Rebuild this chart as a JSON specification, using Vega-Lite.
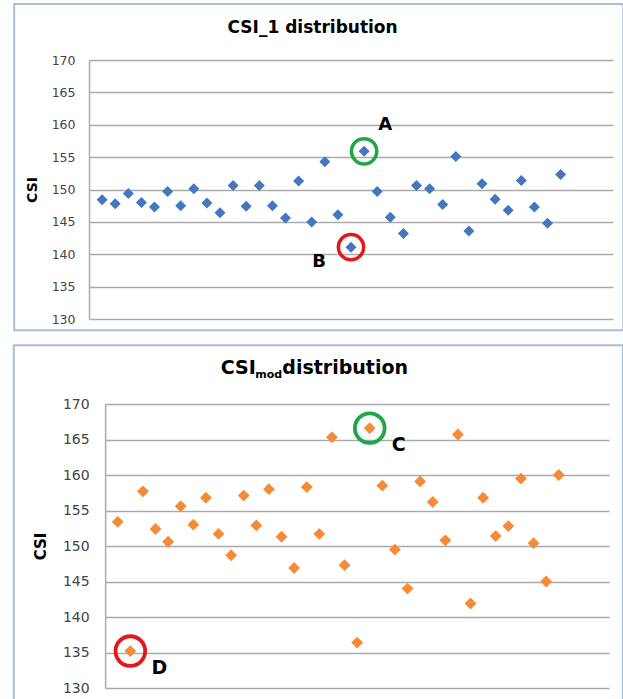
{
  "$schema": "https://vega.github.io/schema/vega-lite/v6.json",
  "padding": {"left": 12, "top": 2, "right": 0, "bottom": 0},
  "config": {
    "view": {"stroke": null},
    "font": "DejaVu Sans",
    "axis": {
      "grid": true, "gridColor": "#aaaaaa", "gridWidth": 1.5,
      "domainColor": "#aaaaaa", "domainWidth": 1.5, "ticks": false, "labelOverlap": false,
      "labelFont": "DejaVu Sans", "labelColor": "#444444",
      "titleFont": "DejaVu Sans", "titleFontWeight": "bold", "titleColor": "#000000"
    }
  },
  "datasets": {
    "frame": [{}],
    "csi1": [
      {"i": 1, "csi": 148.4}, {"i": 2, "csi": 147.8}, {"i": 3, "csi": 149.4}, {"i": 4, "csi": 148.0},
      {"i": 5, "csi": 147.3}, {"i": 6, "csi": 149.7}, {"i": 7, "csi": 147.5}, {"i": 8, "csi": 150.1},
      {"i": 9, "csi": 147.9}, {"i": 10, "csi": 146.4}, {"i": 11, "csi": 150.6}, {"i": 12, "csi": 147.4},
      {"i": 13, "csi": 150.6}, {"i": 14, "csi": 147.5}, {"i": 15, "csi": 145.6}, {"i": 16, "csi": 151.3},
      {"i": 17, "csi": 145.0}, {"i": 18, "csi": 154.3}, {"i": 19, "csi": 146.1}, {"i": 20, "csi": 141.1, "tag": "B"},
      {"i": 21, "csi": 155.9, "tag": "A"}, {"i": 22, "csi": 149.7}, {"i": 23, "csi": 145.7}, {"i": 24, "csi": 143.2},
      {"i": 25, "csi": 150.6}, {"i": 26, "csi": 150.1}, {"i": 27, "csi": 147.7}, {"i": 28, "csi": 155.1},
      {"i": 29, "csi": 143.6}, {"i": 30, "csi": 150.9}, {"i": 31, "csi": 148.5}, {"i": 32, "csi": 146.8},
      {"i": 33, "csi": 151.4}, {"i": 34, "csi": 147.3}, {"i": 35, "csi": 144.8}, {"i": 36, "csi": 152.3}
    ],
    "csimod": [
      {"i": 1, "csi": 153.4}, {"i": 2, "csi": 135.2, "tag": "D"}, {"i": 3, "csi": 157.7}, {"i": 4, "csi": 152.4},
      {"i": 5, "csi": 150.6}, {"i": 6, "csi": 155.6}, {"i": 7, "csi": 153.0}, {"i": 8, "csi": 156.8},
      {"i": 9, "csi": 151.7}, {"i": 10, "csi": 148.7}, {"i": 11, "csi": 157.1}, {"i": 12, "csi": 152.9},
      {"i": 13, "csi": 158.0}, {"i": 14, "csi": 151.3}, {"i": 15, "csi": 146.9}, {"i": 16, "csi": 158.3},
      {"i": 17, "csi": 151.7}, {"i": 18, "csi": 165.3}, {"i": 19, "csi": 147.3}, {"i": 20, "csi": 136.4},
      {"i": 21, "csi": 166.6, "tag": "C"}, {"i": 22, "csi": 158.5}, {"i": 23, "csi": 149.5}, {"i": 24, "csi": 144.0},
      {"i": 25, "csi": 159.1}, {"i": 26, "csi": 156.2}, {"i": 27, "csi": 150.8}, {"i": 28, "csi": 165.7},
      {"i": 29, "csi": 141.9}, {"i": 30, "csi": 156.8}, {"i": 31, "csi": 151.4}, {"i": 32, "csi": 152.8},
      {"i": 33, "csi": 159.5}, {"i": 34, "csi": 150.4}, {"i": 35, "csi": 145.0}, {"i": 36, "csi": 160.0}
    ]
  },
  "spacing": 12,
  "columns": 1,
  "align": "each",
  "center": true,
  "concat": [
    {
      "width": 524,
      "height": 259,
      "title": {
        "text": "CSI_1 distribution", "font": "DejaVu Sans", "fontSize": 17, "fontWeight": "bold",
        "color": "#000000", "anchor": "middle", "frame": "bounds", "offset": -34, "dx": -14
      },
      "layer": [
        {
          "data": {"name": "frame"},
          "mark": {"type": "rect", "fill": null, "stroke": "#a9bfd6", "strokeWidth": 2},
          "encoding": {
            "x": {"datum": -5.71, "type": "quantitative", "scale": {"domain": [0, 40], "nice": false, "zero": false}, "axis": null},
            "x2": {"datum": 40.78},
            "y": {"datum": 178.65, "type": "quantitative", "scale": {"domain": [130, 170], "nice": false, "zero": false},
                  "title": "CSI",
                  "axis": {"values": [130, 135, 140, 145, 150, 155, 160, 165, 170], "tickCount": 12, "labelFontSize": 12.5, "labelPadding": 14, "titleFontSize": 14, "titlePadding": 12}},
            "y2": {"datum": 128.27}
          }
        },
        {
          "data": {"name": "frame"},
          "mark": {"type": "rect", "fill": "#ffffff", "opacity": 0},
          "encoding": {
            "x": {"datum": 40.9, "type": "quantitative", "scale": {"domain": [0, 40], "nice": false, "zero": false}, "axis": null},
            "x2": {"datum": 42.06},
            "y": {"datum": 150, "type": "quantitative", "scale": {"domain": [130, 170], "nice": false, "zero": false},
                  "title": "CSI",
                  "axis": {"values": [130, 135, 140, 145, 150, 155, 160, 165, 170], "tickCount": 12, "labelFontSize": 12.5, "labelPadding": 14, "titleFontSize": 14, "titlePadding": 12}},
            "y2": {"datum": 149}
          }
        },
        {
          "data": {"name": "csi1"},
          "mark": {"type": "point", "shape": "diamond", "filled": true, "size": 121, "color": "#4576be", "opacity": 1},
          "encoding": {
            "x": {"field": "i", "type": "quantitative", "scale": {"domain": [0, 40], "nice": false, "zero": false}, "axis": null},
            "y": {"field": "csi", "type": "quantitative", "scale": {"domain": [130, 170], "nice": false, "zero": false}, "title": "CSI",
                  "axis": {"values": [130, 135, 140, 145, 150, 155, 160, 165, 170], "tickCount": 12, "labelFontSize": 12.5, "labelPadding": 14, "titleFontSize": 14, "titlePadding": 12}}
          }
        },
        {
          "data": {"name": "csi1"},
          "transform": [{"filter": "isValid(datum.tag)"}],
          "mark": {"type": "point", "shape": "circle", "filled": false, "size": 640, "strokeWidth": 3.5, "opacity": 1},
          "encoding": {
            "x": {"field": "i", "type": "quantitative"},
            "y": {"field": "csi", "type": "quantitative"},
            "color": {"field": "tag", "type": "nominal", "scale": {"domain": ["A", "B", "C", "D"], "range": ["#1fa64b", "#e3171c", "#1fa64b", "#e3171c"]}, "legend": null}
          }
        },
        {
          "data": {"name": "csi1"},
          "transform": [{"filter": "datum.tag === 'A'"}],
          "mark": {"type": "text", "dx": 21, "dy": -26, "font": "DejaVu Sans", "fontSize": 18, "fontWeight": "bold", "color": "#000000", "baseline": "middle", "align": "center"},
          "encoding": {
            "x": {"field": "i", "type": "quantitative"},
            "y": {"field": "csi", "type": "quantitative"},
            "text": {"field": "tag"}
          }
        },
        {
          "data": {"name": "csi1"},
          "transform": [{"filter": "datum.tag === 'B'"}],
          "mark": {"type": "text", "dx": -32, "dy": 15, "font": "DejaVu Sans", "fontSize": 18, "fontWeight": "bold", "color": "#000000", "baseline": "middle", "align": "center"},
          "encoding": {
            "x": {"field": "i", "type": "quantitative"},
            "y": {"field": "csi", "type": "quantitative"},
            "text": {"field": "tag"}
          }
        }
      ]
    },
    {
      "width": 504,
      "height": 284,
      "title": {
        "text": "CSI\u00a0\u00a0\u00a0\u00a0distribution", "font": "DejaVu Sans", "fontSize": 19, "fontWeight": "bold",
        "color": "#000000", "anchor": "start", "frame": "bounds", "offset": -36, "dx": 208,
        "subtitle": "\u200b\u00a0\u00a0\u00a0\u00a0\u00a0\u00a0\u00a0\u00a0\u00a0mod", "subtitleFont": "DejaVu Sans", "subtitleFontSize": 11,
        "subtitleFontWeight": "bold", "subtitleColor": "#000000", "subtitlePadding": -9
      },
      "layer": [
        {
          "data": {"name": "frame"},
          "mark": {"type": "rect", "fill": null, "stroke": "#a9bfd6", "strokeWidth": 2},
          "encoding": {
            "x": {"datum": -7.25, "type": "quantitative", "scale": {"domain": [0, 40], "nice": false, "zero": false}, "axis": null},
            "x2": {"datum": 41.09},
            "y": {"datum": 178.27, "type": "quantitative", "scale": {"domain": [130, 170], "nice": false, "zero": false},
                  "title": "CSI",
                  "axis": {"values": [130, 135, 140, 145, 150, 155, 160, 165, 170], "tickCount": 12, "labelFontSize": 14, "labelPadding": 16, "titleFontSize": 15, "titlePadding": 14}},
            "y2": {"datum": 128.27}
          }
        },
        {
          "data": {"name": "csimod"},
          "mark": {"type": "point", "shape": "diamond", "filled": true, "size": 140, "color": "#f38b37", "opacity": 1},
          "encoding": {
            "x": {"field": "i", "type": "quantitative", "scale": {"domain": [0, 40], "nice": false, "zero": false}, "axis": null},
            "y": {"field": "csi", "type": "quantitative", "scale": {"domain": [130, 170], "nice": false, "zero": false}, "title": "CSI",
                  "axis": {"values": [130, 135, 140, 145, 150, 155, 160, 165, 170], "tickCount": 12, "labelFontSize": 14, "labelPadding": 16, "titleFontSize": 15, "titlePadding": 14}}
          }
        },
        {
          "data": {"name": "csimod"},
          "transform": [{"filter": "isValid(datum.tag)"}],
          "mark": {"type": "point", "shape": "circle", "filled": false, "size": 880, "strokeWidth": 3.8, "opacity": 1},
          "encoding": {
            "x": {"field": "i", "type": "quantitative"},
            "y": {"field": "csi", "type": "quantitative"},
            "color": {"field": "tag", "type": "nominal", "scale": {"domain": ["A", "B", "C", "D"], "range": ["#1fa64b", "#e3171c", "#1fa64b", "#e3171c"]}, "legend": null}
          }
        },
        {
          "data": {"name": "csimod"},
          "transform": [{"filter": "isValid(datum.tag)"}],
          "mark": {"type": "text", "dx": 29, "font": "DejaVu Sans", "fontSize": 19, "fontWeight": "bold", "color": "#000000", "baseline": "middle", "align": "center"},
          "encoding": {
            "x": {"field": "i", "type": "quantitative"},
            "y": {"field": "csi", "type": "quantitative"},
            "text": {"field": "tag"},
            "yOffset": {"condition": {"test": "datum.tag === 'C'", "value": -12}, "value": 17}
          }
        }
      ]
    }
  ]
}
